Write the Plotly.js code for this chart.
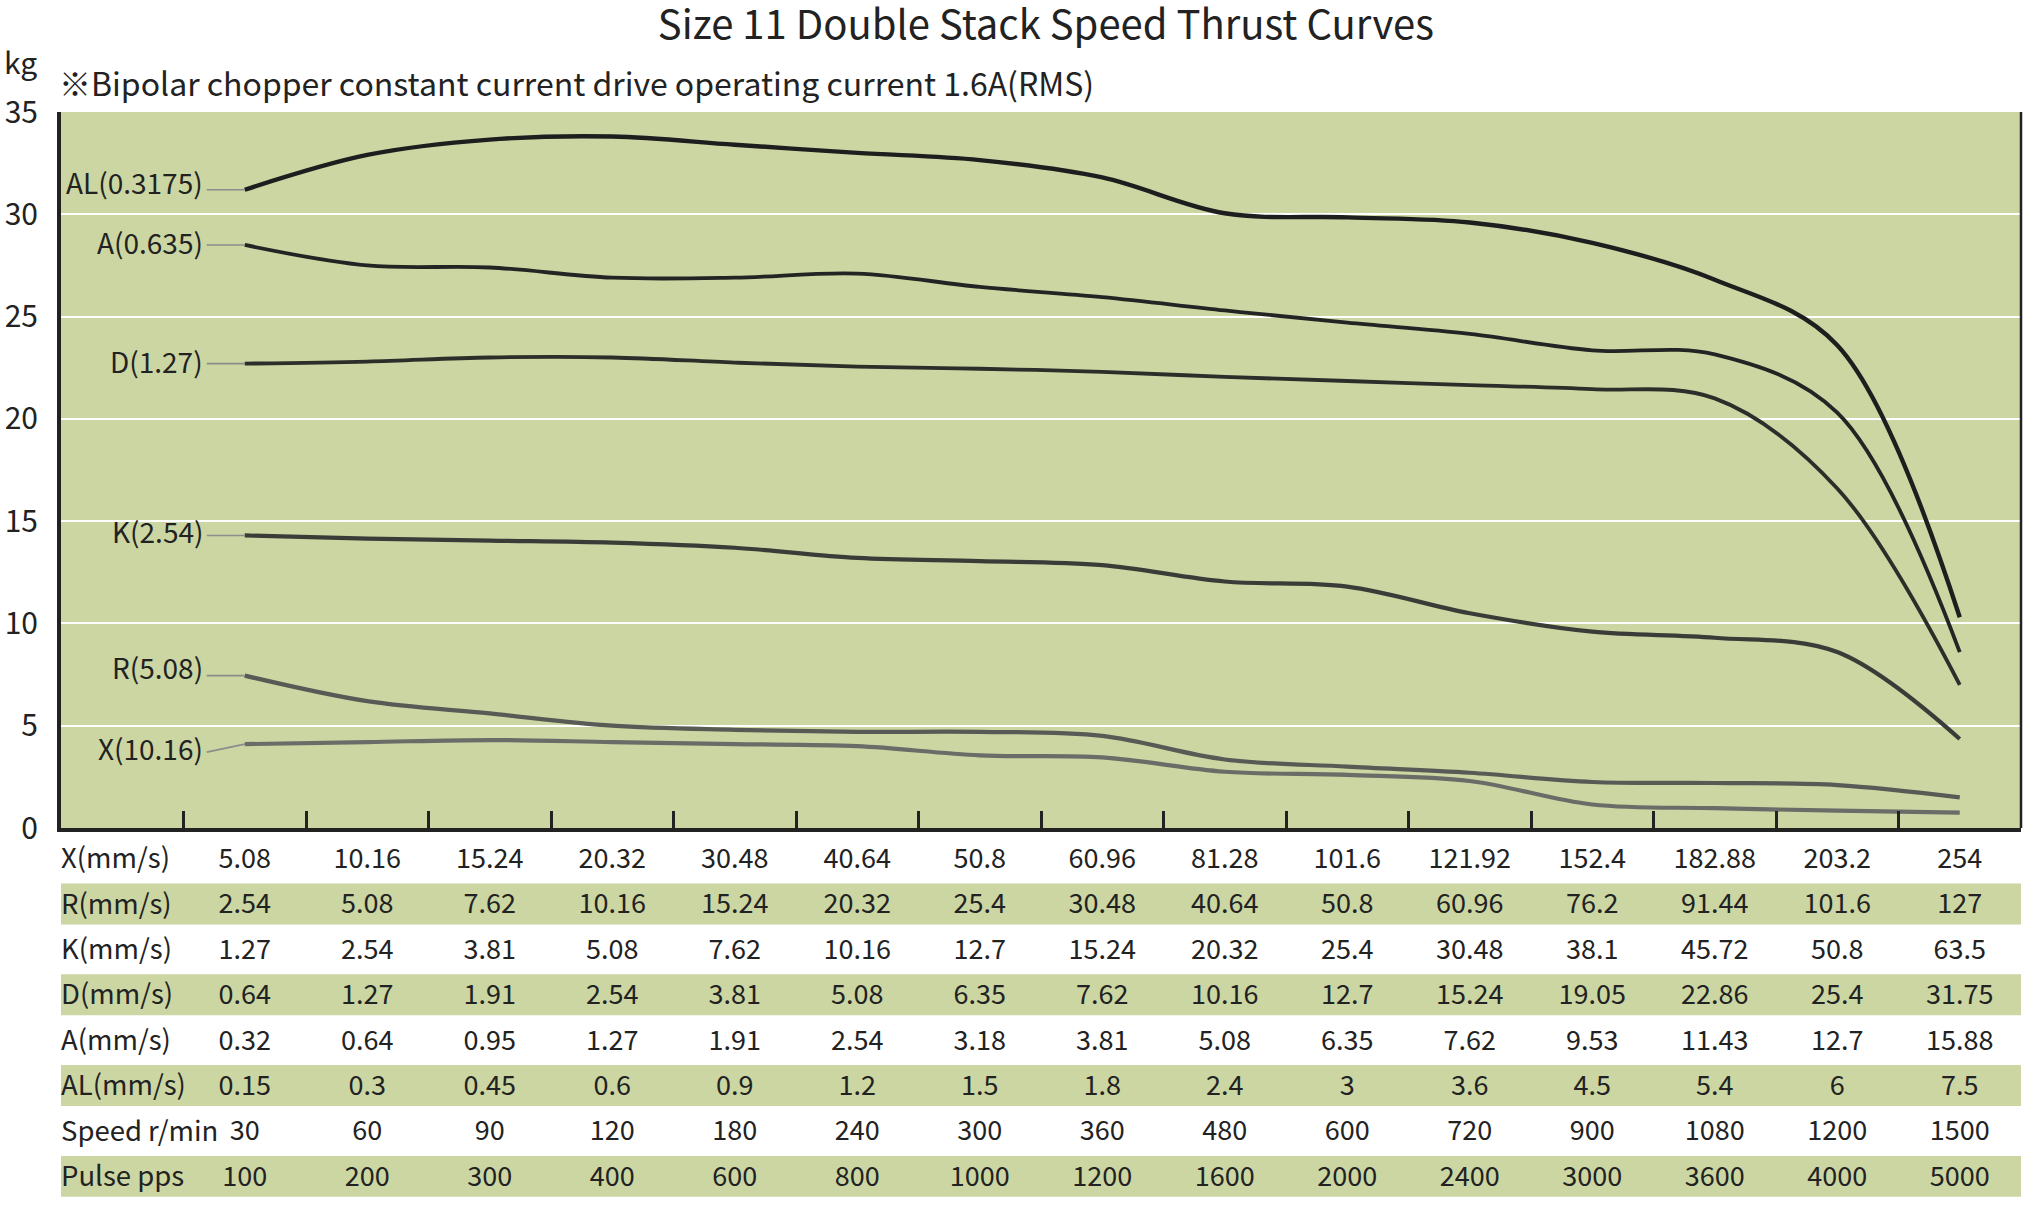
<!DOCTYPE html>
<html>
<head>
<meta charset="utf-8">
<script src="https://cdn.plot.ly/plotly-3.0.1.min.js"></script>
<style>
html,body{margin:0;padding:0;background:#fff;}
#chart{width:2025px;height:1217px;}
</style>
</head>
<body>
<div id="chart"></div>
<script>
// ---- Data ----
var colIndex = [0,1,2,3,4,5,6,7,8,9,10,11,12,13,14];
var tickBoundaries = [-0.5,0.5,1.5,2.5,3.5,4.5,5.5,6.5,7.5,8.5,9.5,10.5,11.5,12.5,13.5];

var seriesNames = ["AL(0.3175)","A(0.635)","D(1.27)","K(2.54)","R(5.08)","X(10.16)"];
var thrustAL = [31.2, 32.9, 33.65, 33.8, 33.4, 33.0, 32.65, 31.8, 30.05, 29.85, 29.6, 28.6, 26.8, 23.6, 10.3];
var thrustA  = [28.5, 27.5, 27.4, 26.9, 26.9, 27.1, 26.45, 25.95, 25.3, 24.7, 24.15, 23.35, 23.15, 20.3, 8.6];
var thrustD  = [22.7, 22.8, 23.0, 23.0, 22.75, 22.55, 22.45, 22.3, 22.05, 21.85, 21.65, 21.45, 21.0, 16.6, 7.0];
var thrustK  = [14.3, 14.15, 14.05, 13.95, 13.7, 13.2, 13.05, 12.85, 12.05, 11.8, 10.5, 9.6, 9.3, 8.6, 4.35];
var thrustR  = [7.45, 6.2, 5.6, 5.0, 4.8, 4.7, 4.7, 4.5, 3.35, 3.0, 2.7, 2.25, 2.2, 2.1, 1.5];
var thrustX  = [4.1, 4.2, 4.3, 4.2, 4.1, 4.0, 3.55, 3.45, 2.75, 2.6, 2.3, 1.15, 0.97, 0.85, 0.75];

var rowLabels = ["X(mm/s)","R(mm/s)","K(mm/s)","D(mm/s)","A(mm/s)","AL(mm/s)","Speed r/min","Pulse pps"];
var speedX  = [5.08,10.16,15.24,20.32,30.48,40.64,50.8,60.96,81.28,101.6,121.92,152.4,182.88,203.2,254];
var speedR  = [2.54,5.08,7.62,10.16,15.24,20.32,25.4,30.48,40.64,50.8,60.96,76.2,91.44,101.6,127];
var speedK  = [1.27,2.54,3.81,5.08,7.62,10.16,12.7,15.24,20.32,25.4,30.48,38.1,45.72,50.8,63.5];
var speedD  = [0.64,1.27,1.91,2.54,3.81,5.08,6.35,7.62,10.16,12.7,15.24,19.05,22.86,25.4,31.75];
var speedA  = [0.32,0.64,0.95,1.27,1.91,2.54,3.18,3.81,5.08,6.35,7.62,9.53,11.43,12.7,15.88];
var speedAL = [0.15,0.3,0.45,0.6,0.9,1.2,1.5,1.8,2.4,3,3.6,4.5,5.4,6,7.5];
var speedRpm = [30,60,90,120,180,240,300,360,480,600,720,900,1080,1200,1500];
var pulsePps = [100,200,300,400,600,800,1000,1200,1600,2000,2400,3000,3600,4000,5000];
var shadedRows = [1,3,5,7];

var titleText = "Size 11 Double Stack Speed Thrust Curves";
var subtitleText = "※Bipolar chopper constant current drive operating current 1.6A(RMS)";
var unitText = "kg";

// ---- Styles ----
var FONT = "'Noto Sans CJK JP', 'Noto Sans', sans-serif";
var GREEN = "#cbd6a3";
var TXT = "#222222";
var thrustSeries = [thrustAL, thrustA, thrustD, thrustK, thrustR, thrustX];
var lineColors = ["#1e1e1e","#242424","#2c2e2a","#3a3c38","#585a55","#6a6c67"];
var lineWidths = [4.4, 3.8, 3.8, 4.2, 4.2, 4.2];
var leaderDrop = [0, 0, 0, 0, 0, 8];     // leader tail offset (px, downward)
var labelRaise = [8, 3, 3, 4, 9, 4];      // label text raise above leader tail (px)
var textRowNudge = 0.06;                  // table text vertical nudge (row units)

var traces = [];
for (var s = 0; s < thrustSeries.length; s++) {
  traces.push({
    type: "scatter", mode: "lines", name: seriesNames[s],
    x: colIndex, y: thrustSeries[s], xaxis: "x", yaxis: "y",
    line: {color: lineColors[s], width: lineWidths[s], shape: "spline", smoothing: 1},
    hoverinfo: "skip", showlegend: false
  });
}

var tableRows = [speedX, speedR, speedK, speedD, speedA, speedAL, speedRpm, pulsePps];
for (var r = 0; r < tableRows.length; r++) {
  var ys = colIndex.map(function(){ return r + textRowNudge; });
  traces.push({
    type: "scatter", mode: "text", x: colIndex, y: ys,
    text: tableRows[r].map(String), xaxis: "x", yaxis: "y2",
    textposition: "middle center", cliponaxis: false,
    textfont: {family: FONT, size: 27, color: TXT},
    hoverinfo: "skip", showlegend: false
  });
}
traces.push({
  type: "scatter", mode: "text",
  x: rowLabels.map(function(){ return -1.5; }),
  y: rowLabels.map(function(_, i){ return i + textRowNudge; }),
  text: rowLabels, xaxis: "x", yaxis: "y2",
  textposition: "middle right", cliponaxis: false,
  textfont: {family: FONT, size: 27.5, color: TXT},
  hoverinfo: "skip", showlegend: false
});

var shapes = [{
  type: "rect", xref: "paper", yref: "y domain", x0: 0, x1: 1, y0: 0, y1: 1,
  fillcolor: GREEN, line: {width: 0}, layer: "below"
}, {
  type: "line", xref: "paper", yref: "y domain", x0: 1, x1: 1, y0: 0, y1: 1,
  line: {color: TXT, width: 2.5}
}];
shadedRows.forEach(function(ri){
  shapes.push({
    type: "rect", xref: "paper", yref: "y2", x0: 0, x1: 1, y0: ri - 0.45, y1: ri + 0.45,
    fillcolor: GREEN, line: {width: 0}, layer: "below"
  });
});

var LEADER = 38;
var annotations = [];
for (var s2 = 0; s2 < seriesNames.length; s2++) {
  // leader line
  annotations.push({
    xref: "x", yref: "y", x: colIndex[0], y: thrustSeries[s2][0],
    text: " ", showarrow: true, arrowhead: 0, arrowwidth: 1.6,
    arrowcolor: "#8c8c8c", ax: -LEADER, ay: leaderDrop[s2],
    xanchor: "right", yanchor: "middle", font: {size: 1, color: "rgba(0,0,0,0)"}
  });
  // label text
  annotations.push({
    xref: "x", yref: "y", x: colIndex[0], y: thrustSeries[s2][0],
    text: seriesNames[s2], showarrow: false,
    xanchor: "right", yanchor: "middle",
    xshift: -LEADER - 2, yshift: labelRaise[s2] - leaderDrop[s2],
    font: {family: FONT, size: 28, color: TXT}
  });
}
annotations.push({
  xref: "paper", yref: "paper", x: 0, y: 1, xanchor: "right", yanchor: "middle",
  xshift: -22, yshift: 51, showarrow: false, text: unitText,
  font: {family: FONT, size: 30, color: TXT}
});
annotations.push({
  xref: "paper", yref: "paper", x: 0, y: 1, xanchor: "left", yanchor: "middle",
  xshift: -4, yshift: 30, showarrow: false, text: subtitleText,
  font: {family: FONT, size: 32, color: TXT}
});

var layout = {
  width: 2025, height: 1217,
  margin: {l: 61, r: 4, t: 112, b: 18, pad: 0},
  paper_bgcolor: "#ffffff", plot_bgcolor: "#ffffff",
  font: {family: FONT, color: TXT},
  title: {text: titleText, x: 0.5165, xref: "container", xanchor: "center",
          y: 0.9795, yref: "container", yanchor: "middle",
          font: {family: FONT, size: 40, color: TXT}},
  xaxis: {
    anchor: "y", range: [-1.5, 14.5], tickvals: tickBoundaries, ticks: "inside",
    ticklen: 17, tickwidth: 3, tickcolor: TXT, showticklabels: false,
    showline: true, linewidth: 3.5, linecolor: TXT, showgrid: false, zeroline: false,
    fixedrange: true
  },
  yaxis: {
    domain: [0.3413, 1], anchor: "x", range: [0, 35], tickvals: [0,5,10,15,20,25,30,35],
    showgrid: true, gridcolor: "#ffffff", gridwidth: 2, zeroline: false,
    showline: true, linewidth: 4, linecolor: TXT, ticks: "",
    ticklabelstandoff: 13, tickfont: {family: FONT, size: 30, color: TXT},
    fixedrange: true
  },
  yaxis2: {
    domain: [0, 0.334], anchor: "x", range: [7.5, -0.5], visible: false, fixedrange: true
  },
  shapes: shapes,
  annotations: annotations,
  showlegend: false
};

Plotly.newPlot("chart", traces, layout, {displayModeBar: false, staticPlot: true});
</script>
</body>
</html>
